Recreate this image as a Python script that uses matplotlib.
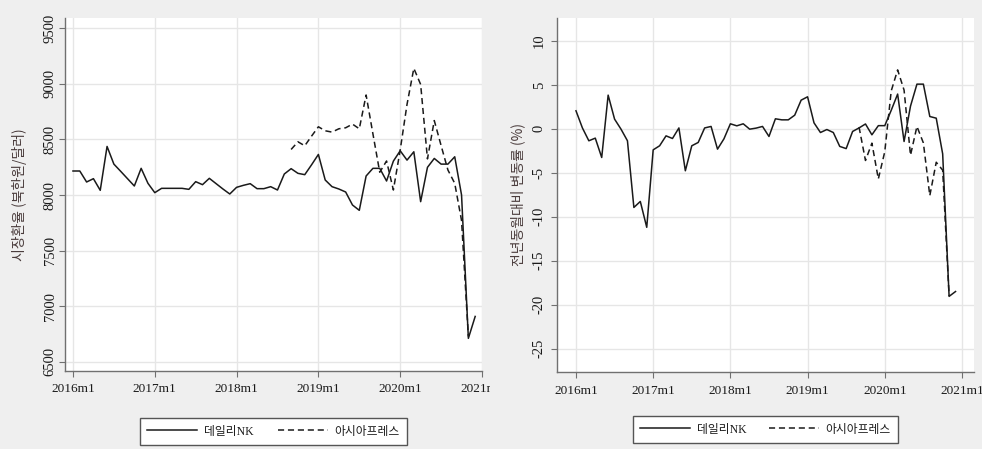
import numpy as np
import matplotlib
matplotlib.use('Agg')
import matplotlib.pyplot as plt
from matplotlib.transforms import Bbox, TransformedBbox

plt.rcParams['axes.unicode_minus'] = False

# 데이터: 2016m1 ~ 2020m12 월별 (60개월)
months = np.arange(60)
tick_pos = [0, 12, 24, 36, 48, 60]
tick_lab = ['2016m1', '2017m1', '2018m1', '2019m1', '2020m1', '2021m1']

# 시장환율 (북한원/달러)
dnk_rate = [8216, 8216, 8117, 8147, 8042, 8437, 8278, 8213, 8147, 8081, 8240, 8105,
            8021, 8060, 8060, 8060, 8060, 8051, 8120, 8093, 8150, 8102, 8054, 8009,
            8069, 8087, 8102, 8057, 8057, 8075, 8045, 8189, 8237, 8195, 8183, 8272,
            8365, 8135, 8075, 8054, 8027, 7910, 7862, 8171, 8240, 8240, 8126, 8305,
            8398, 8314, 8389, 7940, 8249, 8329, 8278, 8278, 8344, 8000, 6710, 6907]
asia_rate = [np.nan] * 32 + [8410, 8479, 8443, 8530, 8614, 8578, 8566, 8596, 8605, 8638, 8596, 8900,
                             8550, 8205, 8306, 8045, 8405, 8815, 9140, 8995, 8325, 8670, 8445, 8225,
                             8105, 7770, 6727] + [np.nan]

# 전년동월대비 변동률 (%)
dnk_yoy = [2.05, 0.1, -1.36, -1.06, -3.26, 3.83, 1.10, -0.04, -1.36, -8.94, -8.26, -11.2,
           -2.39, -1.93, -0.8, -1.1, 0.1, -4.77, -1.93, -1.55, 0.1, 0.27, -2.31, -1.14,
           0.57, 0.34, 0.57, -0.04, 0.08, 0.27, -0.87, 1.14, 1.02, 1.02, 1.55, 3.26,
           3.64, 0.68, -0.42, -0.08, -0.42, -2.0, -2.25, -0.3, 0.1, 0.55, -0.68, 0.36,
           0.36, 2.1, 3.95, -1.44, 2.58, 5.08, 5.08, 1.4, 1.21, -2.85, -19.05, -18.5]
asia_yoy = [np.nan] * 44 + [0.2, -3.6, -1.63, -5.7, -2.6, 4.3, 6.7, 4.4, -3.0, 0.27, -1.6, -7.6,
                            -3.8, -4.7, -19.0] + [np.nan]

ylabels = ['시장환율 (북한원/달러)', '전년동월대비 변동률 (%)']
series_names = ['데일리NK', '아시아프레스']

fig = plt.figure(figsize=(9.82, 4.49), dpi=100, facecolor='#efefef')
ax1 = fig.add_axes([65/982, 78/449, 417/982, 353/449])
ax2 = fig.add_axes([557/982, 77/449, 417/982, 354/449])

serif = 'Liberation Serif'
cjk = 'Noto Sans CJK KR'
lab_color = '#4a3c3c'

def style(ax):
    ax.set_facecolor('white')
    for s in ['top', 'right']:
        ax.spines[s].set_visible(False)
    for s in ['left', 'bottom']:
        ax.spines[s].set_color('#707070')
        ax.spines[s].set_linewidth(1.0)
    ax.grid(True, color='#e6e6e6', linewidth=1.0)
    ax.set_axisbelow(True)
    ax.set_xticks(tick_pos)
    ax.set_xticklabels(tick_lab, fontfamily=serif, fontsize=9.5, color='#1a1a1a')
    ax.tick_params(axis='x', length=4, color='#707070', pad=5)
    ax.tick_params(axis='y', length=4, color='#707070', labelrotation=90)
    for t in ax.get_yticklabels():
        t.set_fontfamily(serif)
        t.set_fontsize(10.5)
        t.set_color('#1a1a1a')
        t.set_verticalalignment('center')

# 왼쪽: 시장환율
ax1.plot(months, dnk_rate, color='#1a1a1a', lw=1.1, label=series_names[0])
ax1.plot(months, asia_rate, color='#1a1a1a', lw=1.1, dashes=(4, 2.5), label=series_names[1])
ax1.set_xlim(-1.17, 60.0)
ax1.set_ylim(6416, 9593)
ax1.set_yticks([6500, 7000, 7500, 8000, 8500, 9000, 9500])
ax1.tick_params(axis='y', pad=2)
style(ax1)
ax1.set_ylabel(ylabels[0], fontfamily=cjk, fontsize=10, color=lab_color)
ax1.yaxis.set_label_coords(-0.092, 0.5)

# 오른쪽: 전년동월대비 변동률
ax2.plot(months, dnk_yoy, color='#1a1a1a', lw=1.1, label=series_names[0])
ax2.plot(months, asia_yoy, color='#1a1a1a', lw=1.1, dashes=(4, 2.5), label=series_names[1])
ax2.set_xlim(-2.95, 61.87)
ax2.set_ylim(-27.65, 12.6)
ax2.set_yticks([-25, -20, -15, -10, -5, 0, 5, 10])
ax2.tick_params(axis='y', pad=4)
style(ax2)
ax2.set_ylabel(ylabels[1], fontfamily=cjk, fontsize=10, color=lab_color)
ax2.yaxis.set_label_coords(-0.077, 0.5)

# 왼쪽 그림의 2021m1 라벨은 패널 경계에서 잘림
clip = TransformedBbox(Bbox([[0, 0], [490/982, 1]]), fig.transFigure)
for t in ax1.get_xticklabels():
    t.set_clip_box(clip)
    t.set_clip_on(True)

# 범례
for ax, box in [(ax1, (140, 417, 407, 446)), (ax2, (633, 415, 898, 444))]:
    x0, y0, x1, y1 = box
    leg = ax.legend(loc='center', ncol=2, mode='expand',
                    bbox_to_anchor=(x0/982, (449-y1)/449, (x1-x0)/982, (y1-y0)/449),
                    bbox_transform=fig.transFigure,
                    prop={'family': [serif, cjk], 'size': 8.5},
                    handlelength=4.2, handletextpad=0.6, columnspacing=1.2,
                    borderpad=0.6, fancybox=False, framealpha=1,
                    edgecolor='#555555', borderaxespad=0)
    leg.get_frame().set_linewidth(1.0)
    for t in leg.get_texts():
        t.set_color('#1a1a1a')

fig.savefig('out.png', dpi=100, facecolor=fig.get_facecolor())
